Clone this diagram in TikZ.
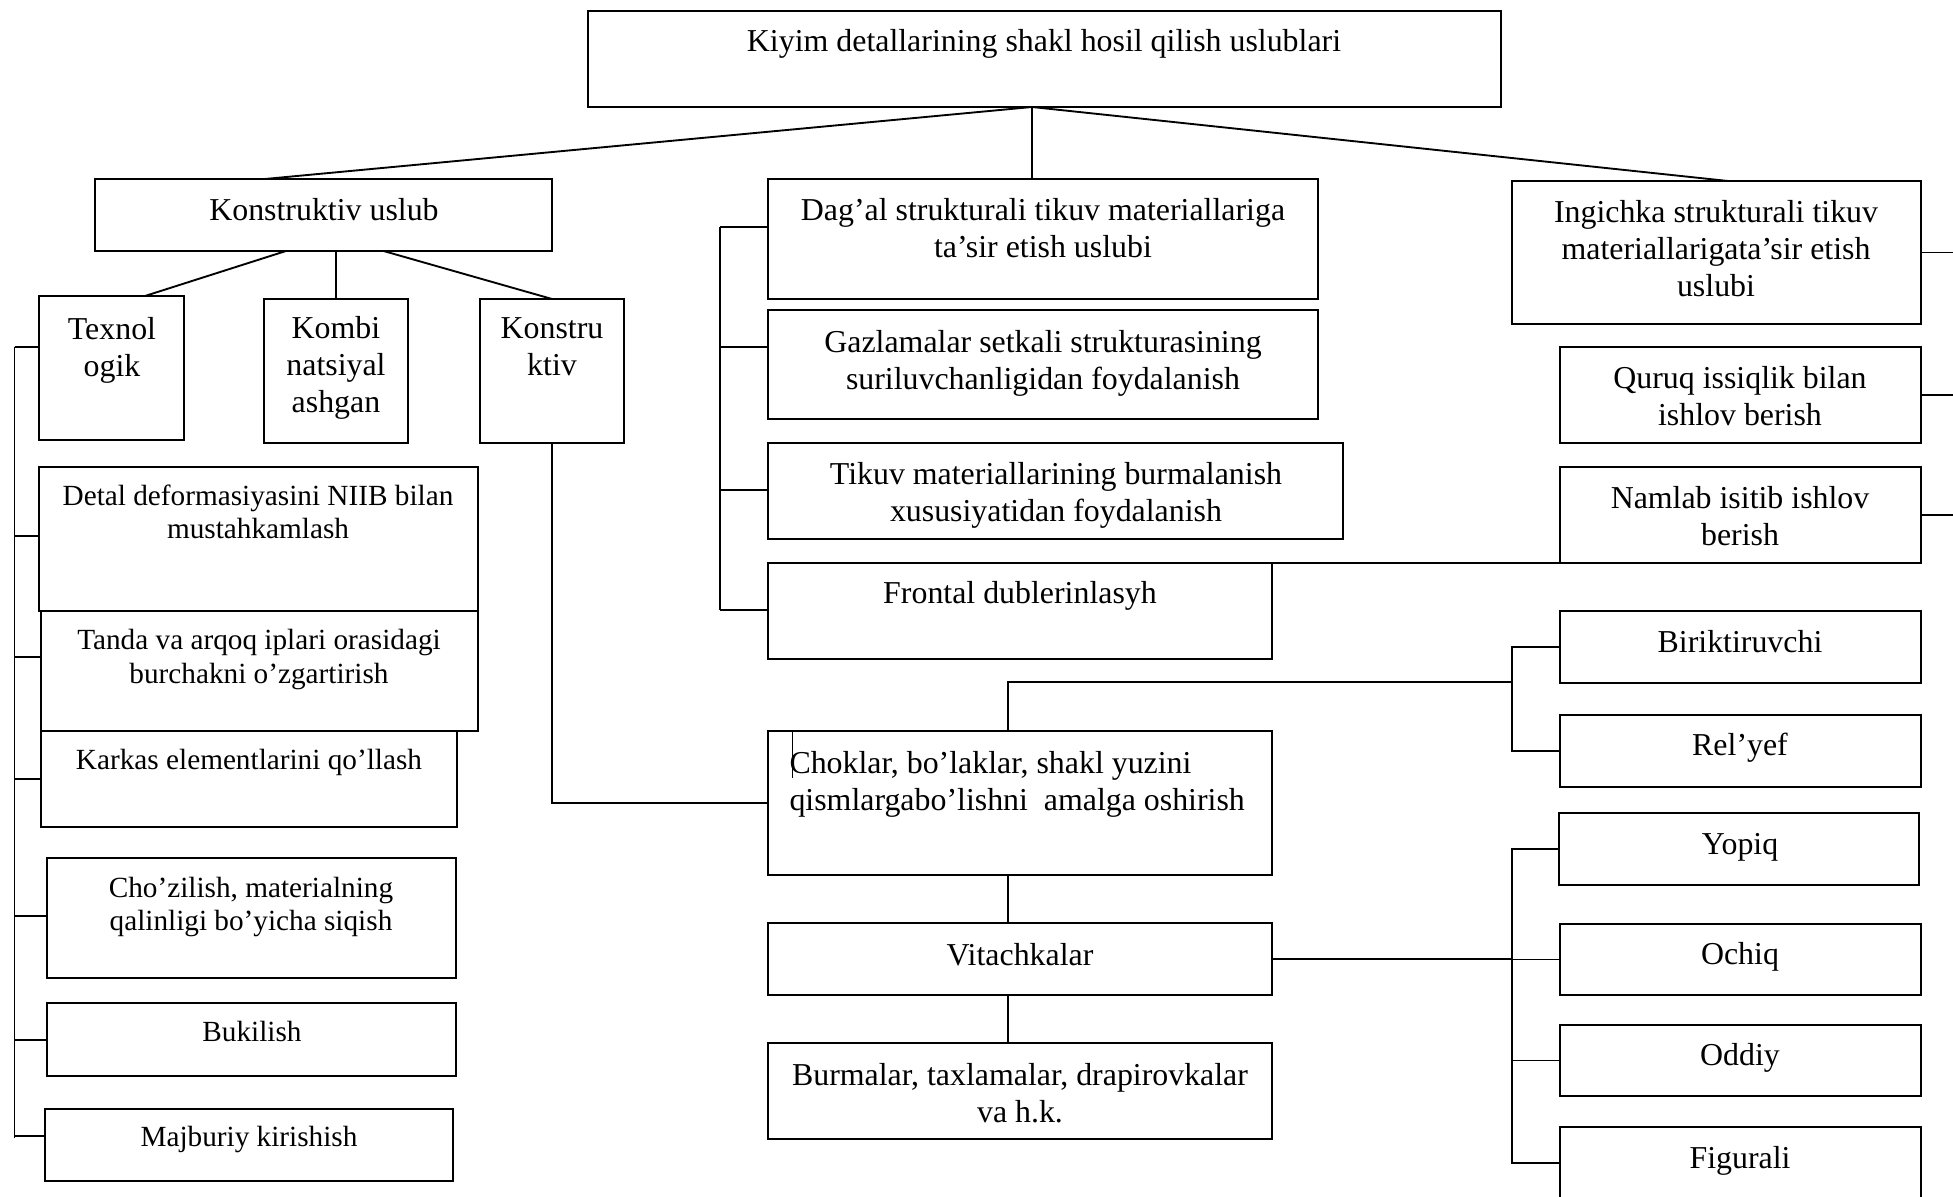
\documentclass[tikz,border=0pt]{standalone}
\usepackage{fontspec}
\setmainfont{Liberation Serif}
\usetikzlibrary{fit}

\begin{document}
\begin{tikzpicture}[x=0.4pt,y=0.4pt,yscale=-1,
  box/.style={draw, line width=0.75pt, inner sep=0pt, outer sep=0pt},
  txt/.style={inner sep=0pt, align=center, text depth=0.22em, yshift=-1pt, font=\fontsize{12.75}{14.8}\selectfont},
  stxt/.style={inner sep=0pt, align=center, text depth=0.22em, yshift=-1pt, font=\fontsize{11.7}{13.3}\selectfont},
  link/.style={line width=0.75pt}]

\useasboundingbox (0,0) rectangle (1953,1197);
\clip (0,0) rectangle (1953,1197);

%Shape: Rectangle -- top level
\node[box, fit={(588,11) (1501,107)}] (top) {};
%Shape: Rectangle -- left column
\node[box, fit={(95,179) (552,251)}] (kuslub) {};
\node[box, fit={(39,296) (184,440)}] (texnol) {};
\node[box, fit={(264,299) (408,443)}] (kombi) {};
\node[box, fit={(480,299) (624,443)}] (konstru) {};
\node[box, fit={(39,467) (478,611)}] (detal) {};
\node[box, fit={(41,611) (478,731)}] (tanda) {};
\node[box, fit={(41,731) (457,827)}] (karkas) {};
\node[box, fit={(47,858) (456,978)}] (chozil) {};
\node[box, fit={(47,1003) (456,1076)}] (bukil) {};
\node[box, fit={(45,1109) (453,1181)}] (majbur) {};
%Shape: Rectangle -- middle column
\node[box, fit={(768,179) (1318,299)}] (dagal) {};
\node[box, fit={(768,310) (1318,419)}] (gazlama) {};
\node[box, fit={(768,443) (1343,539)}] (tikuv) {};
\node[box, fit={(768,563) (1272,659)}] (frontal) {};
\node[box, fit={(768,731) (1272,875)}] (choklar) {};
\node[box, fit={(768,923) (1272,995)}] (vitach) {};
\node[box, fit={(768,1043) (1272,1139)}] (burmal) {};
%Shape: Rectangle -- right column
\node[box, fit={(1512,181) (1921,324)}] (ingichka) {};
\node[box, fit={(1560,347) (1921,443)}] (quruq) {};
\node[box, fit={(1560,467) (1921,563)}] (namlab) {};
\node[box, fit={(1560,611) (1921,683)}] (birik) {};
\node[box, fit={(1560,715) (1921,787)}] (relyef) {};
\node[box, fit={(1559,813) (1919,885)}] (yopiq) {};
\node[box, fit={(1560,924) (1921,995)}] (ochiq) {};
\node[box, fit={(1560,1025) (1921,1096)}] (oddiy) {};
\node[box, fit={(1560,1127) (1921,1199)}] (figur) {};

% bus points
\coordinate (tj) at (1032,107);
\coordinate (lbus) at (14.5,347);
\coordinate (lbusend) at (14.5,1138);
\coordinate (mbus) at (720,227);
\coordinate (mbusend) at (720,610);
\coordinate (j1) at (1512,682);
\coordinate (redge) at (1960,0);

%Straight Lines
\draw[link] (tj) -- (kuslub.north -| 265,0);
\draw[link] (tj) -- (dagal.north -| tj);
\draw[link] (tj) -- (ingichka.north -| 1728,0);
\draw[link] (kuslub.south -| 286,0) -- (texnol.north -| 145,0);
\draw[link] (kuslub.south -| 336,0) -- (kombi.north);
\draw[link] (kuslub.south -| 383.5,0) -- (konstru.north);

\draw[link] (lbus) -- (lbusend);
\foreach \n/\y in {texnol/347, detal/536, tanda/657, karkas/779, chozil/916, bukil/1040, majbur/1136}
  \draw[link] (lbus |- 0,\y) -- (\n.west |- 0,\y);

\draw[link] (mbus) -- (mbusend);
\foreach \n/\y in {dagal/227, gazlama/347, tikuv/490, frontal/610}
  \draw[link] (mbus |- 0,\y) -- (\n.west |- 0,\y);

\foreach \n in {ingichka, quruq, namlab}
  \draw[link] (\n.east) -- (\n.east -| redge);

\draw[link] (frontal.north east) -- (namlab.south west);
\draw[link] (konstru.south) |- (choklar.west);
\draw[link] (choklar.north -| 1008,0) |- (j1);
\draw[link] (choklar.south -| 1008,0) -- (vitach.north -| 1008,0);
\draw[link] (vitach.south -| 1008,0) -- (burmal.north -| 1008,0);

\draw[link] (birik.west) -- (birik.west -| j1) -- (relyef.west -| j1) -- (relyef.west);
\draw[link] (yopiq.west) -- (yopiq.west -| j1) -- (figur.west -| j1) -- (figur.west);
\draw[link] (ochiq.west) -- (ochiq.west -| j1);
\draw[link] (oddiy.west) -- (oddiy.west -| j1);
\draw[link] (vitach.east) -- (vitach.east -| j1);

% stray caret mark in the seam box
\draw[line width=0.4pt] ([xshift=9.6pt]choklar.north west) -- ++(0,47);

% Text Node
\node[txt] (top-t) at (1044,41) {Kiyim detallarining shakl hosil qilish uslublari};
% Text Node
\node[txt] (kuslub-t) at (324,210) {Konstruktiv uslub};
\node[txt] (texnol-t) at (112,347) {Texnol\\ogik};
\node[txt] (kombi-t) at (336,365) {Kombi\\natsiyal\\ashgan};
\node[txt] (konstru-t) at (552,347) {Konstru\\ktiv};
% Text Node
\node[stxt] (detal-t) at (258,512) {Detal deformasiyasini NIIB bilan\\mustahkamlash};
\node[stxt] (tanda-t) at (259,656.5) {Tanda va arqoq iplari orasidagi\\burchakni o’zgartirish};
\node[stxt] (karkas-t) at (249,760) {Karkas elementlarini qo’llash};
\node[stxt] (chozil-t) at (251,904) {Cho’zilish, materialning\\qalinligi bo’yicha siqish};
\node[stxt] (bukil-t) at (252,1032) {Bukilish};
\node[stxt] (majbur-t) at (249,1137) {Majburiy kirishish};
% Text Node
\node[txt] (dagal-t) at (1043,228.5) {Dag’al strukturali tikuv materiallariga\\ta’sir etish uslubi};
\node[txt] (gazlama-t) at (1043,360.5) {Gazlamalar setkali strukturasining\\suriluvchanligidan foydalanish};
\node[txt] (tikuv-t) at (1056,492.5) {Tikuv materiallarining burmalanish\\xususiyatidan foydalanish};
\node[txt] (frontal-t) at (1020,593) {Frontal dublerinlasyh};
\node[txt, anchor=west, align=left] (choklar-t) at (789,781.5) {Choklar, bo’laklar, shakl yuzini\\qismlargabo’lishni\ \ amalga oshirish};
\node[txt] (vitach-t) at (1020,955) {Vitachkalar};
\node[txt] (burmal-t) at (1020,1093.5) {Burmalar, taxlamalar, drapirovkalar\\va h.k.};
% Text Node
\node[txt] (ingichka-t) at (1716,248.3) {Ingichka strukturali tikuv\\materiallarigata’sir etish\\uslubi};
\node[txt] (quruq-t) at (1740,396.5) {Quruq issiqlik bilan\\ishlov berish};
\node[txt] (namlab-t) at (1740,516.5) {Namlab isitib ishlov\\berish};
\node[txt] (birik-t) at (1740,642) {Biriktiruvchi};
\node[txt] (relyef-t) at (1740,745) {Rel’yef};
\node[txt] (yopiq-t) at (1740,844) {Yopiq};
\node[txt] (ochiq-t) at (1740,954) {Ochiq};
\node[txt] (oddiy-t) at (1740,1055) {Oddiy};
\node[txt] (figur-t) at (1740,1158) {Figurali};
\end{tikzpicture}
\end{document}
